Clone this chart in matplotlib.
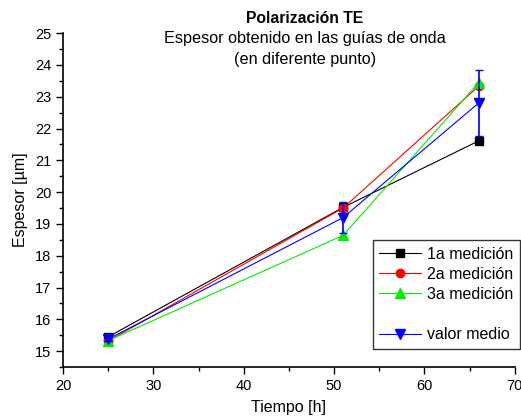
import matplotlib
matplotlib.use('Agg')
import matplotlib.pyplot as plt
from matplotlib.lines import Line2D
from matplotlib.ticker import MultipleLocator

plt.rcParams['font.family'] = ['Liberation Sans', 'DejaVu Sans']

tiempo = [25, 51, 66]
med1 = [15.45, 19.52, 21.61]
med2 = [15.32, 19.50, 23.33]
med3 = [15.33, 18.64, 23.44]
medio = [15.38, 19.20, 22.80]
err_medio = [0.07, 0.49, 1.04]

fig = plt.figure(figsize=(5.21, 4.19), dpi=100)
ax = fig.add_axes([0.121, 0.124, 0.867, 0.797])

ax.plot(tiempo, med1, color='black', marker='s', ms=6, lw=0.8, label='1a medición')
ax.plot(tiempo, med2, color='red', marker='o', ms=6, lw=0.8, label='2a medición')
ax.plot(tiempo, med3, color='#00ee00', marker='^', ms=7, lw=0.8, label='3a medición')
ax.errorbar(tiempo, medio, yerr=err_medio, color='blue', marker='v', ms=7, lw=0.8,
            elinewidth=1.2, capsize=3, capthick=1)

ax.set_xlim(20, 70)
ax.set_ylim(14.5, 25)
ax.xaxis.set_major_locator(MultipleLocator(10))
ax.xaxis.set_minor_locator(MultipleLocator(5))
ax.yaxis.set_major_locator(MultipleLocator(1))
ax.yaxis.set_minor_locator(MultipleLocator(0.5))
ax.spines['top'].set_visible(False)
ax.spines['right'].set_visible(False)
for s in ['left', 'bottom']:
    ax.spines[s].set_linewidth(1.2)
ax.tick_params(which='major', direction='out', length=5, width=1, labelsize=10.5)
ax.tick_params(which='minor', direction='out', length=3, width=1)

ax.set_xlabel('Tiempo [h]', fontsize=11.5, labelpad=5)
ax.set_ylabel('Espesor [µm]', fontsize=11.5, labelpad=5)

fig.text(0.585, 0.955, 'Polarización TE', ha='center', va='center', fontsize=11.3, fontweight='bold')
fig.text(0.585, 0.907, 'Espesor obtenido en las guías de onda', ha='center', va='center', fontsize=11.7)
fig.text(0.585, 0.858, '(en diferente punto)', ha='center', va='center', fontsize=11.7)

h, l = ax.get_legend_handles_labels()
blank = Line2D([], [], color='none')
h_medio = Line2D([], [], color='blue', marker='v', ms=7, lw=0.8)
handles = [h[0], h[1], h[2], blank, h_medio]
labels = [l[0], l[1], l[2], '', 'valor medio']
leg = ax.legend(handles, labels, loc='lower right', bbox_to_anchor=(1.011, 0.055),
                fontsize=11.5, frameon=True, fancybox=False, edgecolor='black',
                handlelength=2.6, handletextpad=0.4, labelspacing=0.32,
                borderpad=0.4, borderaxespad=0)
leg.get_frame().set_linewidth(1)

fig.savefig('out.png', dpi=100)
